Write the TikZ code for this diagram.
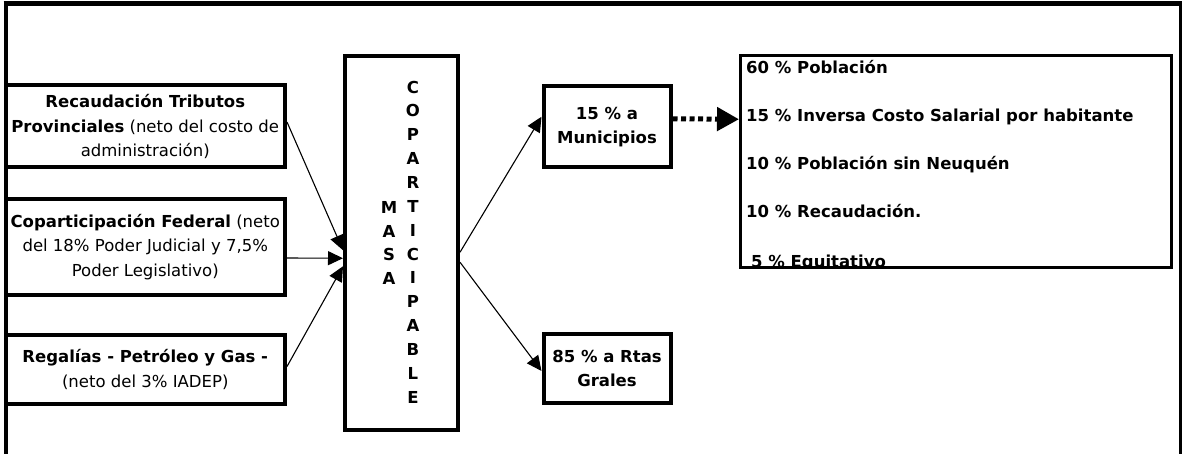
\documentclass[tikz,border=0pt]{standalone}
\usepackage{fontspec}
\setmainfont{DejaVu Sans}
\usetikzlibrary{arrows.meta}
\begin{document}
\begin{tikzpicture}[x=1pt,y=-1pt,
  caja/.style={draw,line width=4pt,align=center,inner sep=1pt,font=\fontsize{16.5}{24.5}\selectfont},
  flecha/.style={-{Triangle[length=15pt,width=14pt]},line width=1.1pt},
  letras/.style={align=center,inner sep=0pt,font=\bfseries\fontsize{16.5}{23.85}\selectfont},
  renglon/.style={anchor=base west,inner sep=0pt,font=\bfseries\fontsize{16.5}{20}\selectfont}]
\useasboundingbox (0,0) rectangle (1182,454);
% marco
\draw[line width=5pt] (3.5,4) -- (1182,4);
\draw[line width=4pt] (5.5,4) -- (5.5,454);
\draw[line width=3pt] (1180.5,4) -- (1180.5,454);
% fuentes
\node[caja,minimum width=279.5pt,minimum height=82pt] (recaudacion) at (145.25,126.5)
  {\textbf{Recaudación Tributos}\\\textbf{Provinciales} (neto del costo de\\administración)};
\node[caja,minimum width=279.5pt,minimum height=96pt] (coparticipacion) at (145.25,247)
  {\textbf{Coparticipación Federal} (neto\\del 18\% Poder Judicial y 7,5\%\\Poder Legislativo)};
\node[caja,minimum width=279.5pt,minimum height=69pt] (regalias) at (145.25,369.5)
  {\textbf{Regalías - Petróleo y Gas -}\\(neto del 3\% IADEP)};
% masa
\node[draw,line width=4pt,minimum width=113pt,minimum height=373.5pt] (masa) at (401.5,243.25) {};
\node[letras] (masaA) at (389,243) {M\\A\\S\\A};
\node[letras] (masaB) at (413,242) {C\\O\\P\\A\\R\\T\\I\\C\\I\\P\\A\\B\\L\\E};
% destinos
\node[caja,font=\bfseries\fontsize{16.5}{24}\selectfont,minimum width=127pt,minimum height=81.5pt] (muni) at (607,126.75) {15 \% a\\Municipios};
\node[caja,font=\bfseries\fontsize{16.5}{24}\selectfont,minimum width=127pt,minimum height=69pt] (rtas) at (607,368.5) {85 \% a Rtas\\Grales};
% lista
\begin{scope}
\clip (740.5,55.5) rectangle (1171.5,267);
\node[renglon] (l1) at (746,74) {60 \% Población};
\node[renglon] (l2) at (746,122) {15 \% Inversa Costo Salarial por habitante};
\node[renglon] (l3) at (746,170) {10 \% Población sin Neuquén};
\node[renglon] (l4) at (746,218) {10 \% Recaudación.};
\node[renglon] (l5) at (751,267) {5 \% Equitativo};
\end{scope}
\node[draw,line width=3pt,minimum width=431pt,minimum height=211.5pt] (lista) at (956,161.25) {};
% flechas
\draw[flecha] ([yshift=4.5pt]recaudacion.east) -- ([yshift=-7pt]masa.west);
\draw[flecha] ([yshift=-11pt]coparticipacion.east) -- ([yshift=-15pt]masa.west);
\draw[flecha] ([yshift=3pt]regalias.east) -- ([yshift=-23pt]masa.west);
\draw[flecha] ([yshift=-9pt]masa.east) -- ([yshift=10pt]muni.west);
\draw[flecha] ([yshift=-19pt]masa.east) -- ([yshift=-2.5pt]rtas.west);
\draw[line width=5pt,dash pattern=on 5pt off 3.5pt,-{Triangle[length=22pt,width=23pt]}]
  ([yshift=8pt]muni.east) -- ([yshift=42pt]lista.west);
\end{tikzpicture}
\end{document}
